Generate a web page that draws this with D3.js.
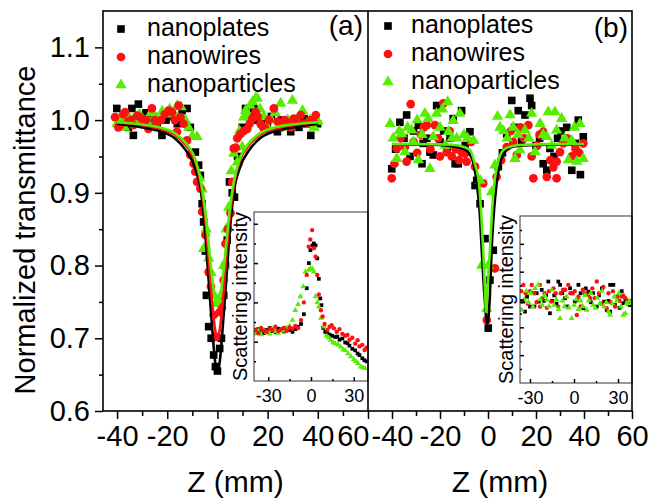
<!DOCTYPE html>
<html>
<head>
<meta charset="utf-8">
<script src="https://cdn.jsdelivr.net/npm/d3@7"></script>
<style>
body { margin: 0; background: #fff; }
svg { display: block; font-family: "Liberation Sans", Arial, Helvetica, sans-serif; }
</style>
</head>
<body>
<div class="container"></div>
<script>
// ---- data: [z (mm), value] ----
const seriesNames = ["nanoplates", "nanowires", "nanoparticles"];
const seriesColors = ["#000000", "#ff1010", "#55ee00"];

const xTicksMain = [-40, -20, 0, 20, 40, 60];
const yTicksMain = [0.6, 0.7, 0.8, 0.9, 1.0, 1.1];
const xTicksInset = [-30, 0, 30];

// panel (a) measured points
const platesA = [[-40.1,1.016],[-38.5,0.995],[-37,1.005],[-35.5,0.99],[-34.1,1.016],[-33.5,0.979],[-31.5,1.022],[-30,1.0],[-28.5,1.01],[-27,0.995],[-25.5,1.005],[-24,0.99],[-22.1,0.979],[-20.5,1.0],[-19,1.01],[-17.5,1.005],[-16,0.995],[-14.1,1.013],[-12.1,1.016],[-10.8,0.99],[-8.8,0.956],[-7.5,0.938],[-6.8,0.924],[-6.1,0.885],[-5.5,0.86],[-4.8,0.82],[-4.4,0.759],[-3.5,0.716],[-2.5,0.70],[-1.5,0.677],[-0.8,0.661],[0,0.655],[0.9,0.686],[1.6,0.70],[2.5,0.759],[3.2,0.80],[3.9,0.835],[4.8,0.915],[5.9,0.9],[6.8,0.894],[8,0.95],[9.9,0.99],[11.2,1.016],[12.5,1.005],[14.5,1.016],[16,1.0],[17.5,0.995],[19.9,0.99],[21.5,1.005],[23.9,0.984],[25.5,1.0],[27,0.995],[29.2,0.984],[31,1.0],[32.5,0.99],[34.5,1.002],[36,0.995],[37.2,0.979],[38.5,1.0],[39.9,0.995]];
const wiresA = [[-40.8,1.004],[-39.5,0.99],[-38.8,0.993],[-37.5,1.008],[-36.8,1.011],[-35.5,0.998],[-34.5,1.0],[-33.5,0.993],[-32,1.006],[-30.8,1.004],[-29.5,0.995],[-28.5,1.0],[-27.5,0.988],[-26.1,1.016],[-25,1.0],[-24.1,0.997],[-22.5,1.0],[-21,1.008],[-19.5,1.013],[-18.1,1.011],[-17,1.0],[-16.1,0.984],[-15.5,1.02],[-14.8,1.004],[-13.5,0.995],[-12.1,0.972],[-10.8,0.952],[-9.5,0.94],[-8.8,0.929],[-8.1,0.915],[-6.8,0.906],[-6.1,0.874],[-4.8,0.842],[-3.5,0.791],[-2.6,0.771],[-1.5,0.732],[-0.4,0.702],[0.9,0.736],[1.8,0.742],[2.5,0.78],[3.2,0.83],[4.2,0.85],[5.2,0.872],[5.9,0.915],[6.5,0.961],[7.3,0.962],[7.9,0.975],[9.2,0.981],[10.5,0.985],[11.9,0.988],[12.8,0.995],[13.9,1.002],[15.2,1.011],[16,1.005],[17.2,0.995],[18.2,0.99],[19.2,0.988],[20.5,1.0],[22.5,1.016],[24,0.998],[25.5,0.99],[26.8,1.0],[27.9,0.996],[29.2,0.99],[30.4,1.002],[31.8,0.997],[33.2,1.007],[34.5,0.995],[35.9,0.996],[37.2,1.0],[38.2,0.998],[39.2,1.007]];
const particlesA = [[-40,0.995],[-38.5,1.0],[-37,0.99],[-35.5,1.005],[-34,1.0],[-32.5,0.995],[-31,1.008],[-29.5,1.0],[-28,0.998],[-26.5,1.01],[-25,1.005],[-23.5,1.0],[-22,1.012],[-20.5,1.008],[-19,1.015],[-17.6,1.009],[-16,1.02],[-14.5,1.018],[-12.8,1.0],[-11.5,0.99],[-10,0.978],[-8.1,0.977],[-7,0.92],[-6,0.905],[-5.5,0.823],[-4.5,0.85],[-3.5,0.81],[-2.5,0.79],[-1.5,0.76],[-0.5,0.748],[0.5,0.75],[1.5,0.76],[2.5,0.8],[3.5,0.85],[4.5,0.88],[5.5,0.93],[6.5,0.954],[7.9,0.942],[8.8,0.985],[9.9,0.963],[10.5,1.004],[11.2,1.013],[11.9,1.007],[13,1.02],[14,1.025],[15.2,1.03],[15.9,1.03],[17,1.015],[18.5,1.005],[20,0.99],[21.5,1.0],[23,1.01],[25.2,1.023],[26.5,0.99],[28,1.0],[29.9,1.027],[31.5,1.0],[33.9,1.013],[35.5,0.995],[37,1.0],[38.5,0.99],[40,0.998]];

// panel (a) fitted curves
const fitPlatesA = [[-40,0.995],[-30,0.99],[-23,0.985],[-17,0.975],[-12.5,0.958],[-9,0.935],[-6.5,0.9],[-5,0.85],[-3.5,0.78],[-2,0.71],[-1,0.67],[0,0.652],[1,0.67],[2,0.71],[3.5,0.78],[5,0.85],[6.5,0.9],[9,0.935],[12.5,0.958],[17,0.975],[23,0.985],[30,0.99],[40,0.995]];
const fitWiresA = [[-40,0.997],[-30,0.993],[-23,0.988],[-17,0.98],[-12.5,0.965],[-9,0.945],[-6.5,0.91],[-5,0.87],[-3.5,0.81],[-2,0.745],[-1,0.713],[0,0.70],[1,0.713],[2,0.745],[3.5,0.81],[5,0.87],[6.5,0.91],[9,0.945],[12.5,0.965],[17,0.98],[23,0.988],[30,0.993],[40,0.997]];
const fitParticlesA = [[-40,0.997],[-30,0.994],[-23,0.99],[-17,0.982],[-12.5,0.968],[-9,0.948],[-6.5,0.915],[-5,0.88],[-3.5,0.83],[-2,0.78],[-1,0.755],[0,0.745],[1,0.755],[2,0.78],[3.5,0.83],[5,0.88],[6.5,0.915],[9,0.948],[12.5,0.968],[17,0.982],[23,0.99],[30,0.994],[40,0.997]];

// panel (b) measured points
const platesB = [[-40.1,0.933],[-38.5,0.96],[-36.7,0.997],[-35,0.975],[-33.9,1.007],[-32.5,0.95],[-31,0.985],[-29,0.993],[-27.5,0.94],[-27,0.968],[-25.5,0.975],[-24.2,0.956],[-22.8,0.952],[-21.4,1.02],[-20,0.97],[-18.5,0.985],[-17,0.962],[-15.8,0.975],[-14.5,1.002],[-13.7,0.94],[-12.4,0.94],[-11,1.013],[-9.5,0.965],[-7.5,0.984],[-5.4,0.91],[-4.7,0.917],[-3.3,0.885],[-1.25,0.837],[0.1,0.714],[0.8,0.78],[2.2,0.821],[4.3,0.936],[6,0.955],[7.8,0.981],[9.9,1.027],[11,0.99],[12.6,1.013],[14,0.97],[15.4,1.007],[17.5,1.03],[18.2,1.02],[20,0.965],[21.5,0.975],[23,0.94],[24.5,0.931],[25.8,0.961],[27.5,0.95],[29,0.975],[30.5,0.985],[32.8,0.99],[34.9,0.931],[36.3,0.968],[37.6,1.0],[38.5,0.925],[39.7,0.977]];
const wiresB = [[-40.1,0.92],[-39,0.94],[-38,0.961],[-36.5,0.975],[-34.6,0.963],[-33.9,0.943],[-32.2,1.022],[-31,0.97],[-29.5,0.955],[-28,0.98],[-26.8,0.99],[-25.5,0.993],[-24,0.96],[-22.1,0.993],[-20.8,0.975],[-20,0.95],[-18.6,1.023],[-17.2,0.956],[-16,0.985],[-15.1,0.95],[-13.5,0.96],[-12,0.945],[-11,0.956],[-9.6,0.954],[-8.9,0.943],[-7,0.97],[-5.4,0.936],[-2,0.913],[-0.5,0.725],[2.9,0.796],[3.6,0.922],[5.5,0.945],[7.8,0.963],[9.5,0.985],[10.5,0.97],[12,0.952],[13.5,0.99],[15,0.975],[16.8,0.993],[18.2,0.95],[18.9,0.92],[20.5,0.965],[21.5,0.98],[23,0.984],[24.5,0.922],[26,0.945],[27.2,0.935],[28.6,0.92],[28.6,0.943],[30,0.956],[31.4,0.968],[33,0.975],[34.9,0.95],[36.5,0.96],[38,0.955],[39.7,0.968]];
const particlesB = [[-40.8,0.995],[-39.5,0.975],[-38,0.947],[-37,0.985],[-36,0.981],[-34.6,0.956],[-33.5,0.99],[-31.8,0.986],[-31.1,0.97],[-29.5,1.0],[-29,0.945],[-27.5,0.98],[-26.3,1.009],[-24.9,1.002],[-24.2,0.933],[-22.8,0.977],[-21.4,1.009],[-20,0.99],[-19,1.015],[-17.8,0.965],[-16.8,1.025],[-16.5,0.984],[-15,0.975],[-14.5,0.999],[-13,0.975],[-11.7,1.009],[-10,0.98],[-8.5,0.975],[-6,0.972],[-3.3,0.917],[-2.6,0.8],[-0.5,0.741],[0.1,0.8],[1.5,0.901],[2.9,0.938],[4,1.005],[5,0.99],[6.5,0.985],[8,0.975],[9.2,1.007],[10.5,0.99],[11.25,0.947],[12.5,0.98],[13.3,0.959],[15.4,0.986],[17,0.975],[18.2,1.009],[19.6,0.956],[21.7,0.995],[23,0.98],[24.5,0.977],[25.1,1.011],[26.5,0.965],[27.9,1.011],[28.6,0.986],[30.7,1.002],[32,0.975],[33.5,0.945],[34.9,0.972],[36,0.99],[37,0.943],[38.3,0.995],[39.7,0.947]];

// panel (b) fitted curves
const fitPlatesB = [[-40,0.966],[-25,0.966],[-15,0.964],[-10,0.96],[-8,0.955],[-6,0.94],[-4.7,0.913],[-3.5,0.875],[-2.6,0.821],[-1.5,0.76],[-0.3,0.72],[0.8,0.76],[1.5,0.821],[2.5,0.875],[3.6,0.913],[5,0.94],[7.8,0.959],[10,0.963],[15,0.965],[25,0.966],[40,0.966]];
const fitParticlesB = [[-40,0.967],[-25,0.967],[-15,0.966],[-10,0.963],[-7.5,0.959],[-5.5,0.94],[-3.75,0.913],[-2.8,0.87],[-2,0.821],[-1.3,0.77],[-0.8,0.736],[-0.2,0.77],[0.8,0.821],[1.6,0.87],[2.6,0.913],[4,0.94],[6.4,0.959],[10,0.964],[15,0.966],[25,0.967],[40,0.967]];

// inset (a): scattering intensity (arb. units)
const insetPlatesA = [[-39,1.25],[-37,1.32],[-35,1.28],[-33,1.22],[-31,1.30],[-29,1.35],[-27,1.27],[-25,1.24],[-23,1.33],[-21,1.29],[-19,1.26],[-17,1.34],[-15,1.30],[-13,1.25],[-11,1.32],[-9,1.38],[-7,1.45],[-5,1.70],[-3,2.36],[-1.5,3.0],[-0.4,3.33],[1,3.45],[2,3.5],[3.2,3.45],[4.4,3.12],[5.5,2.6],[6.5,2.1],[7.3,1.93],[8.5,1.35],[10,1.25],[11.5,1.21],[13,1.18],[15,1.15],[17,1.12],[18.5,1.13],[20,1.05],[22,1.08],[24,0.98],[25.6,0.96],[27,0.9],[29,0.82],[31,0.78],[32.7,0.7],[34,0.66],[36,0.58],[37.4,0.53],[39,0.5]];
const insetWiresA = [[-39,1.30],[-37,1.22],[-35,1.35],[-33,1.28],[-31,1.25],[-29,1.33],[-27,1.30],[-25,1.38],[-23,1.27],[-21,1.32],[-19,1.35],[-17,1.28],[-15,1.36],[-13,1.33],[-11,1.40],[-9,1.35],[-7,1.55],[-5,2.0],[-3,2.7],[-1.6,3.42],[-0.5,3.6],[0.8,3.84],[2,3.38],[3.2,3.16],[4.4,2.7],[5.5,2.2],[7,1.8],[8.2,1.64],[9.5,1.45],[11.5,1.30],[13,1.38],[14.5,1.42],[16.1,1.34],[18,1.25],[20,1.32],[22,1.20],[24,1.15],[25.6,1.17],[27,1.05],[29,1.10],[31,0.95],[32.7,1.04],[34,0.88],[36,0.92],[37.6,0.79],[39,0.85]];
const insetParticlesA = [[-39,1.20],[-37,1.28],[-35,1.18],[-33,1.30],[-31,1.24],[-29,1.20],[-27,1.32],[-25,1.26],[-23,1.22],[-21,1.30],[-19,1.28],[-17,1.35],[-15,1.40],[-13,1.55],[-11,1.80],[-9,1.95],[-7.4,2.15],[-5.5,2.4],[-3.9,2.78],[-1.6,2.82],[-0.4,2.87],[1,2.85],[2,2.78],[3.2,2.15],[4.5,2.0],[5.5,1.89],[7,1.6],[9.1,1.38],[11,1.15],[12.5,1.10],[13.8,1.04],[15.5,0.98],[17,0.95],[19,0.92],[20.9,0.87],[22.5,0.80],[24,0.78],[26,0.70],[28,0.62],[30,0.55],[31.5,0.50],[33,0.45],[35,0.36],[36.5,0.34],[38,0.32]];

// inset (b)
const insetPlatesB = [[-36,5.85],[-34.5,5.85],[-33.4,5.13],[-32,6.2],[-30,5.49],[-28.5,6.45],[-27,5.5],[-25.4,6.45],[-24,5.85],[-22,6.69],[-20.5,5.9],[-19,6.3],[-17.5,7.29],[-16.4,5.01],[-15,5.9],[-13.5,6.3],[-12,5.7],[-10.7,7.29],[-9.5,7.05],[-8,6.45],[-6.1,6.09],[-4.5,5.5],[-2.7,6.81],[-1,6.45],[0.5,5.85],[1.9,5.97],[3,7.05],[4.5,6.45],[6.4,5.37],[8,6.8],[9.8,6.57],[11.5,5.8],[13,6.45],[15.5,5.49],[17,6.3],[19,6.8],[20.5,5.85],[22.3,5.25],[23.5,5.9],[24.6,7.05],[24.6,5.13],[26.8,7.05],[28,5.6],[29.5,6.2],[31,5.4],[32.5,6.6],[33.6,5.73],[35,6.0],[36.5,5.9],[38,5.6],[39,5.8]];
const insetWiresB = [[-36,6.6],[-34.5,7.05],[-33,6.45],[-31.5,5.7],[-30,6.6],[-28.8,7.05],[-27,6.45],[-25.5,5.8],[-23.2,7.05],[-23.2,5.49],[-21.5,6.1],[-20,6.45],[-18.5,5.4],[-17,6.6],[-15.5,5.85],[-14,6.8],[-12.5,6.45],[-10.7,5.49],[-9,6.45],[-7.5,6.7],[-6,6.7],[-3.9,7.05],[-2.5,6.45],[-1,6.45],[0.5,6.6],[1.9,4.89],[3,6.2],[4.5,5.5],[6,6.7],[7.5,6.45],[9.8,6.33],[11,6.1],[12.5,6.8],[14,6.1],[15.5,7.29],[17,6.45],[18.5,5.7],[20,6.9],[22.3,5.37],[23.5,6.45],[25,5.8],[26.5,6.6],[28,5.5],[29.5,6.2],[31,5.9],[32.5,6.21],[33.5,6.3],[35,6.1],[36.5,5.7],[38.5,5.9]];
const insetParticlesB = [[-35.6,5.25],[-34,6.0],[-32.5,6.6],[-31,5.8],[-29.5,6.45],[-28,5.5],[-26.5,6.8],[-24.3,7.05],[-23,6.0],[-21.5,5.6],[-20,6.3],[-18.6,5.97],[-17,5.5],[-15.2,6.69],[-13.5,5.6],[-12,6.0],[-10.5,5.3],[-9.5,4.65],[-8,5.9],[-6.5,5.5],[-5,6.2],[-3.5,5.4],[-1.6,4.65],[0,5.6],[1.5,6.0],[3,5.3],[4.5,5.9],[6,5.5],[7.5,6.3],[8.7,5.25],[10,5.9],[11.5,6.45],[13,5.6],[14.5,5.4],[16,6.1],[17.5,5.7],[19,6.6],[20.5,5.5],[22,5.8],[23.5,5.13],[24.6,4.89],[26,5.7],[27.5,6.2],[29,5.9],[30.5,6.45],[32,5.5],[33.6,4.89],[35,5.0],[35.9,5.73],[37.5,5.9],[39,5.73]];

// ---- layout ----
const w = 658;
const h = 498;
const plotTop = 11;
const plotBottom = 411;
const fontFam = "Liberation Sans, Arial, sans-serif";

const svg = d3.select(".container").append("svg")
    .attr("width", w)
    .attr("height", h);

const yScale = d3.scaleLinear().domain([0.6, 1.15]).range([plotBottom, plotTop]);

const symbolTypes = [d3.symbolSquare, d3.symbolCircle, d3.symbolTriangle];
const bigSizes = [58, 60, 56];
const smallSizes = [14, 15, 15];

const panels = [
    {
        label: "(a)", x0: 103, x1: 368, domain: [-45.6, 60],
        points: [platesA, wiresA, particlesA], order: [0, 2, 1],
        fits: [[fitPlatesA, 0], [fitWiresA, 1], [fitParticlesA, 2]],
        legend: {mx: 121, tx: 147, y: 29}, labelX: 363, labelY: 35,
        inset: {x0: 254, x1: 368, y0: 212, y1: 381, domain: [-40, 40], ydomain: [0, 4.3],
                yMajor: [1, 2, 3, 4], yMinor: [0.5, 1.5, 2.5, 3.5],
                data: [insetPlatesA, insetWiresA, insetParticlesA], order: [0, 2, 1], titleX: 247}
    },
    {
        label: "(b)", x0: 368, x1: 632, domain: [-50, 60],
        points: [platesB, wiresB, particlesB], order: [0, 1, 2],
        fits: [[fitPlatesB, 0], [fitParticlesB, 2]],
        legend: {mx: 388, tx: 411, y: 26}, labelX: 628, labelY: 37,
        inset: {x0: 520, x1: 632, y0: 216, y1: 383, domain: [-36.8, 39.5], ydomain: [0, 12],
                yMajor: [2, 4, 6, 8, 10], yMinor: [1, 3, 5, 7, 9, 11],
                data: [insetPlatesB, insetWiresB, insetParticlesB], order: [0, 1, 2], titleX: 513}
    }
];

const defs = svg.append("defs");

panels.forEach((p, pi) => {
    const xScale = d3.scaleLinear().domain(p.domain).range([p.x0, p.x1]);

    defs.append("clipPath").attr("id", "clip" + pi)
        .append("rect").attr("x", p.x0).attr("y", plotTop)
        .attr("width", p.x1 - p.x0).attr("height", plotBottom - plotTop);

    const g = svg.append("g").attr("clip-path", "url(#clip" + pi + ")");

    // scatter
    p.order.forEach(si => {
        g.append("g").selectAll("path")
            .data(p.points[si])
            .enter()
            .append("path")
            .attr("transform", d => "translate(" + xScale(d[0]) + "," + yScale(d[1]) + ")")
            .attr("d", d3.symbol().type(symbolTypes[si]).size(bigSizes[si]))
            .attr("fill", seriesColors[si]);
    });

    // fitted curves
    const line = d3.line()
        .x(d => xScale(d[0]))
        .y(d => yScale(d[1]))
        .curve(d3.curveMonotoneX);
    p.fits.forEach(f => {
        g.append("path")
            .attr("d", line(f[0]))
            .attr("fill", "none")
            .attr("stroke", seriesColors[f[1]])
            .attr("stroke-width", 2.6);
    });

    // bottom axis
    const xAxis = d3.axisBottom(xScale).tickValues(xTicksMain).tickSize(8).tickPadding(6)
        .tickFormat(d => String(d)).tickSizeOuter(0);
    const xg = svg.append("g").attr("transform", "translate(0," + plotBottom + ")").call(xAxis);
    const minorX = d3.range(-30, 60, 20).filter(v => v > p.domain[0]);
    svg.append("g").attr("transform", "translate(0," + plotBottom + ")")
        .call(d3.axisBottom(xScale).tickValues(minorX).tickSize(5).tickFormat("").tickSizeOuter(0))
        .call(s => s.select(".domain").remove());
    xg.select(".domain").remove();
    xg.selectAll("text").attr("font-size", 29).attr("fill", "#000").attr("font-family", fontFam);
    if (pi === 0) {
        xg.selectAll("text").filter(d => d === 60).attr("text-anchor", "end").attr("x", 1);
    }

    // axis title
    svg.append("text")
        .attr("x", (p.x0 + p.x1) / 2)
        .attr("y", 492)
        .attr("text-anchor", "middle")
        .attr("font-size", 30)
        .text("Z (mm)");

    // legend
    seriesNames.forEach((name, si) => {
        const ly = p.legend.y + si * 28;
        svg.append("path")
            .attr("transform", "translate(" + p.legend.mx + "," + ly + ")")
            .attr("d", d3.symbol().type(symbolTypes[si]).size(bigSizes[si]))
            .attr("fill", seriesColors[si]);
        svg.append("text")
            .attr("x", p.legend.tx)
            .attr("y", ly + 7)
            .attr("font-size", 25)
            .text(name);
    });

    svg.append("text")
        .attr("x", p.labelX).attr("y", p.labelY)
        .attr("text-anchor", "end")
        .attr("font-size", 28)
        .text(p.label);

    // inset
    const ins = p.inset;
    const ix = d3.scaleLinear().domain(ins.domain).range([ins.x0, ins.x1]);
    const iy = d3.scaleLinear().domain(ins.ydomain).range([ins.y1, ins.y0]);

    svg.append("rect")
        .attr("x", ins.x0).attr("y", ins.y0)
        .attr("width", ins.x1 - ins.x0).attr("height", ins.y1 - ins.y0)
        .attr("fill", "#fff");

    defs.append("clipPath").attr("id", "iclip" + pi)
        .append("rect").attr("x", ins.x0).attr("y", ins.y0)
        .attr("width", ins.x1 - ins.x0).attr("height", ins.y1 - ins.y0);
    const ig = svg.append("g").attr("clip-path", "url(#iclip" + pi + ")");
    ins.order.forEach(si => {
        ig.append("g").selectAll("path")
            .data(ins.data[si])
            .enter()
            .append("path")
            .attr("transform", d => "translate(" + ix(d[0]) + "," + iy(d[1]) + ")")
            .attr("d", d3.symbol().type(symbolTypes[si]).size(smallSizes[si]))
            .attr("fill", seriesColors[si]);
    });

    svg.append("rect")
        .attr("x", ins.x0).attr("y", ins.y0)
        .attr("width", ins.x1 - ins.x0).attr("height", ins.y1 - ins.y0)
        .attr("fill", "none").attr("stroke", "#333").attr("stroke-width", 1);

    const ixAxis = svg.append("g").attr("transform", "translate(0," + ins.y1 + ")")
        .call(d3.axisBottom(ix).tickValues(xTicksInset).tickSizeInner(-4).tickSizeOuter(0)
            .tickPadding(8).tickFormat(d => String(d)));
    ixAxis.select(".domain").remove();
    ixAxis.selectAll("text").attr("font-size", 18).attr("fill", "#000").attr("font-family", fontFam);
    svg.append("g").attr("transform", "translate(0," + ins.y1 + ")")
        .call(d3.axisBottom(ix).tickValues([-15, 15]).tickSizeInner(-2).tickSizeOuter(0).tickFormat(""))
        .call(s => s.select(".domain").remove());

    svg.append("g").attr("transform", "translate(" + ins.x0 + ",0)")
        .call(d3.axisLeft(iy).tickValues(ins.yMajor).tickSizeInner(-4).tickSizeOuter(0).tickFormat(""))
        .call(s => s.select(".domain").remove());
    svg.append("g").attr("transform", "translate(" + ins.x0 + ",0)")
        .call(d3.axisLeft(iy).tickValues(ins.yMinor).tickSizeInner(-2).tickSizeOuter(0).tickFormat(""))
        .call(s => s.select(".domain").remove());

    svg.append("text")
        .attr("transform", "translate(" + ins.titleX + "," + ((ins.y0 + ins.y1) / 2) + ") rotate(-90)")
        .attr("text-anchor", "middle")
        .attr("font-size", 20)
        .text("Scattering intensity");
});

// left axis
const yAxis = d3.axisLeft(yScale).tickValues(yTicksMain).tickSize(8).tickPadding(5)
    .tickFormat(d3.format(".1f")).tickSizeOuter(0);
const yg = svg.append("g").attr("transform", "translate(103,0)").call(yAxis);
yg.select(".domain").remove();
yg.selectAll("text").attr("font-size", 29).attr("fill", "#000").attr("font-family", fontFam);
svg.append("g").attr("transform", "translate(103,0)")
    .call(d3.axisLeft(yScale).tickValues([0.65, 0.75, 0.85, 0.95, 1.05]).tickSize(4).tickFormat("").tickSizeOuter(0))
    .call(s => s.select(".domain").remove());

svg.selectAll(".tick line").attr("stroke", "#000").attr("stroke-width", 1.5);

svg.append("text")
    .attr("transform", "translate(35,230) rotate(-90)")
    .attr("text-anchor", "middle")
    .attr("font-size", 29)
    .text("Normalized transmittance");

// frame
svg.append("rect")
    .attr("x", 103).attr("y", plotTop)
    .attr("width", 632 - 103).attr("height", plotBottom - plotTop)
    .attr("fill", "none").attr("stroke", "#000").attr("stroke-width", 1.6);
svg.append("line")
    .attr("x1", 368).attr("x2", 368).attr("y1", plotTop).attr("y2", plotBottom)
    .attr("stroke", "#000").attr("stroke-width", 1.6);
</script>
</body>
</html>
